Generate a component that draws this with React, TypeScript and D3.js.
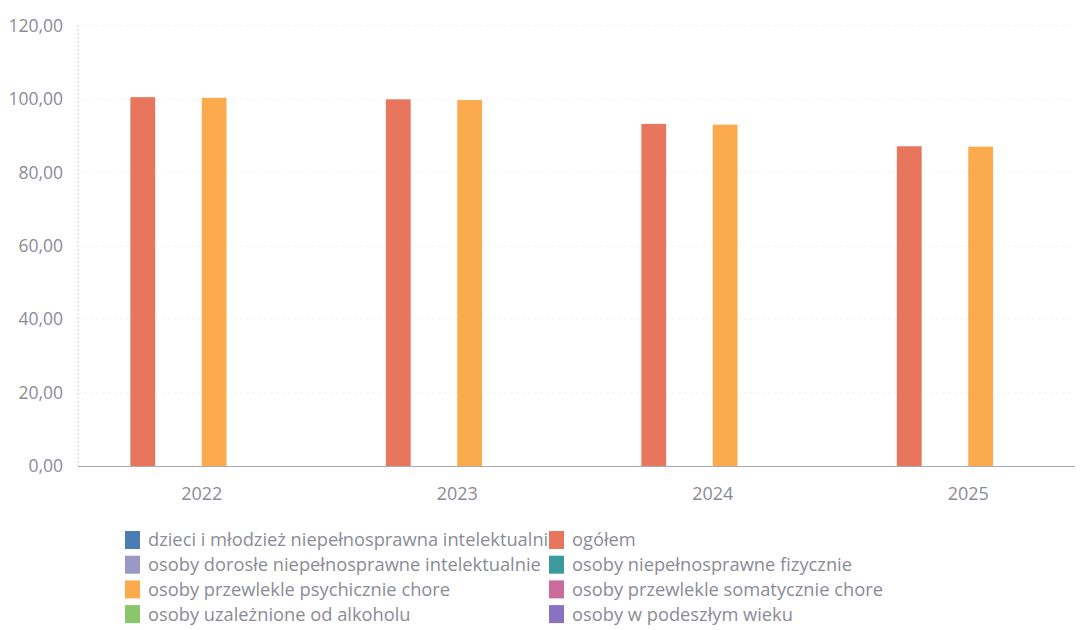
import React from "react";
import * as d3 from "d3";

const years = ["2022", "2023", "2024", "2025"];
const seriesNames = [
  "dzieci i młodzież niepełnosprawna intelektualnie",
  "ogółem",
  "osoby dorosłe niepełnosprawne intelektualnie",
  "osoby niepełnosprawne fizycznie",
  "osoby przewlekle psychicznie chore",
  "osoby przewlekle somatycznie chore",
  "osoby uzależnione od alkoholu",
  "osoby w podeszłym wieku",
];
const seriesColors = [
  "#4a7db3",
  "#e8765c",
  "#9b98c8",
  "#3d9a9c",
  "#fbab4d",
  "#c96b9b",
  "#8cc66c",
  "#8a72c2",
];
const ogolem = [100.6, 100.0, 93.3, 87.2];
const psychicznie = [100.4, 99.8, 93.1, 87.1];
const yTicks = [0, 20, 40, 60, 80, 100, 120];

const valuesBySeries: (number[] | null)[] = [null, ogolem, null, null, psychicznie, null, null, null];

const W = 1081;
const H = 630;
const axisX = 78;
const y0 = 466;
const yTop = 26;

export default function App() {
  const x = d3.scaleBand<string>().domain(years).range([74, 1096]).paddingInner(0.255).paddingOuter(0.1275);
  const sub = d3
    .scaleBand<string>()
    .domain(seriesNames)
    .range([0, x.bandwidth()])
    .padding(0);
  const y = d3.scaleLinear().domain([0, 120]).range([y0, yTop]);
  const fmt = (v: number) => d3.format(".2f")(v).replace(".", ",");
  const textColor = "#8b8b96";
  const font = "'Open Sans', 'Noto Sans', sans-serif";

  const legendLeftX = 125;
  const legendRightX = 549;
  const legendY0 = 540;
  const legendStep = 24.7;

  return (
    <svg width={W} height={H} style={{ position: "absolute", left: 0, top: 0, background: "#fff" }}>
      {yTicks.map((t) => (
        <g key={t}>
          {t > 0 && (
            <line x1={axisX} x2={1075} y1={y(t)} y2={y(t)} stroke="#f4f4f6" strokeWidth={1} strokeDasharray="3,3" />
          )}
          <text
            x={63}
            y={y(t)}
            dy="0.35em"
            textAnchor="end"
            fontFamily={font}
            fontSize={17.5}
            fill={textColor}
          >
            {fmt(t)}
          </text>
        </g>
      ))}
      <line x1={axisX} x2={axisX} y1={yTop - 1} y2={y0} stroke="#cfcfd6" strokeWidth={1} strokeDasharray="2,2" />
      {years.map((yr, i) =>
        valuesBySeries.map((vals, si) =>
          vals ? (
            <rect
              key={yr + si}
              x={(x(yr) as number) + (sub(seriesNames[si]) as number)}
              y={y(vals[i])}
              width={sub.bandwidth() + 1}
              height={y0 - y(vals[i])}
              fill={seriesColors[si]}
            />
          ) : null
        )
      )}
      <line x1={axisX} x2={1075} y1={y0 + 0.5} y2={y0 + 0.5} stroke="#a9a9b3" strokeWidth={1.2} />
      {years.map((yr) => (
        <text
          key={yr}
          x={(x(yr) as number) + x.bandwidth() / 2}
          y={494}
          dy="0.35em"
          textAnchor="middle"
          fontFamily={font}
          fontSize={18}
          fill={textColor}
        >
          {yr}
        </text>
      ))}
      {seriesNames.map((name, si) => {
        const col = si % 2;
        const row = Math.floor(si / 2);
        const lx = col === 0 ? legendLeftX : legendRightX;
        const ly = legendY0 + row * legendStep;
        return (
          <g key={name}>
            <text x={lx + 23} y={ly} dy="0.35em" fontFamily={font} fontSize={18.3} fill={textColor}>
              {name}
            </text>
          </g>
        );
      })}
      {seriesNames.map((name, si) => {
        const col = si % 2;
        const row = Math.floor(si / 2);
        const lx = col === 0 ? legendLeftX : legendRightX;
        const ly = legendY0 + row * legendStep;
        return <rect key={name + "sw"} x={lx} y={ly - 9} width={15} height={18} fill={seriesColors[si]} />;
      })}
    </svg>
  );
}
